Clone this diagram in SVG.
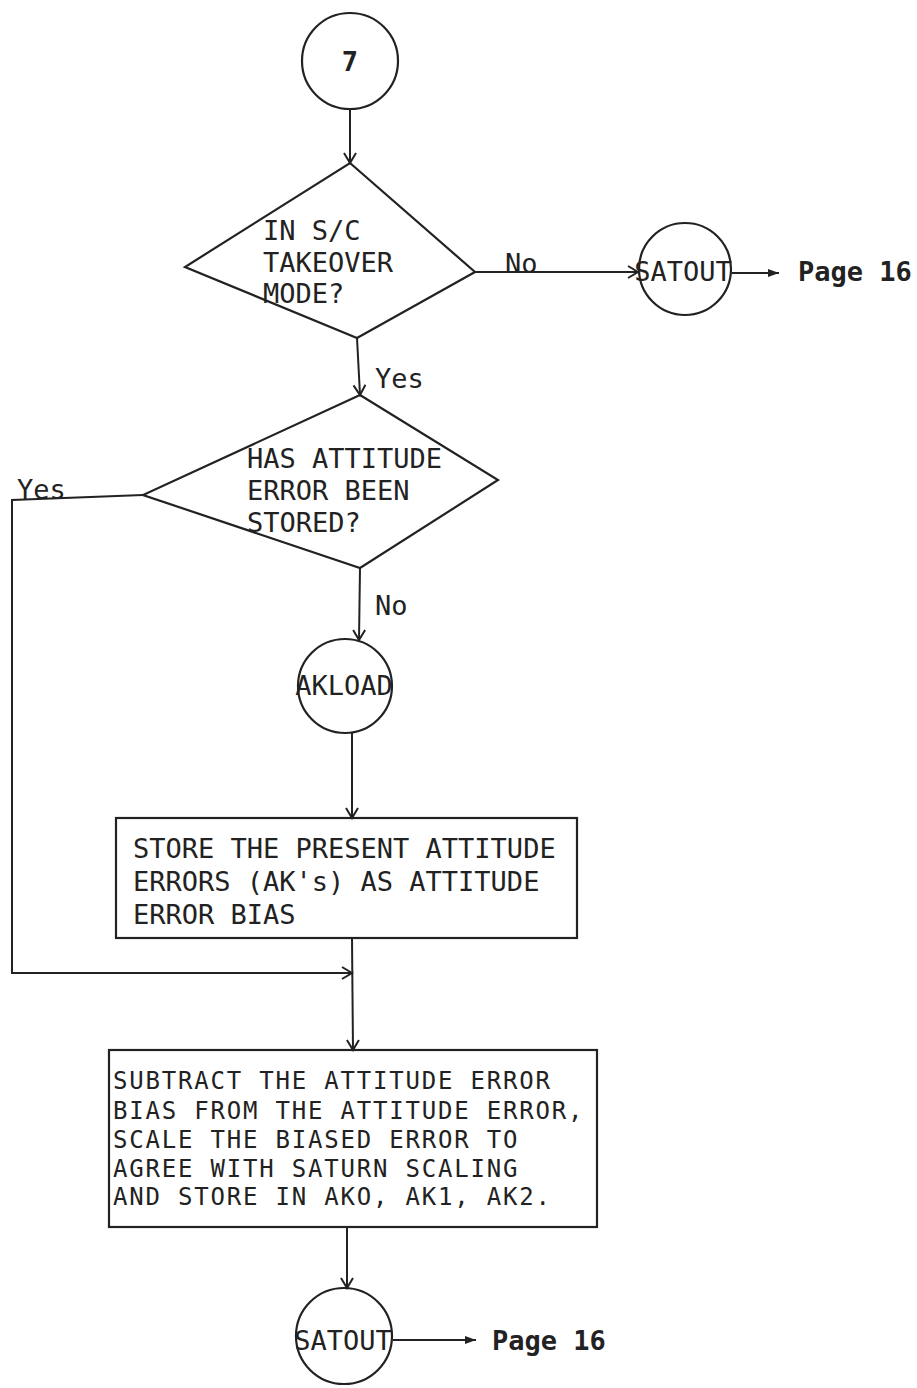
<svg xmlns="http://www.w3.org/2000/svg" width="917" height="1388" viewBox="0 0 917 1388">
<defs>
<marker id="open" markerUnits="userSpaceOnUse" markerWidth="14" markerHeight="14" refX="12" refY="7" orient="auto">
<path d="M2,1 L12,7 L2,13" fill="none" stroke="#222" stroke-width="2"/>
</marker>
<marker id="solid" markerUnits="userSpaceOnUse" markerWidth="12" markerHeight="10" refX="11" refY="5" orient="auto">
<path d="M0,1 L11,5 L0,9 Z" fill="#222"/>
</marker>
</defs>
<style>
.shape{fill:none;stroke:#222;stroke-width:2.2}
.con{fill:none;stroke:#222;stroke-width:2}
.t{font-family:"DejaVu Sans Mono","Liberation Mono",monospace;font-size:27px;fill:#222}
.s{font-size:24px;letter-spacing:1.8px}
.b{font-weight:bold}
</style>
<rect width="917" height="1388" fill="#fff"/>

<g id="connectors">
<line class="con" x1="350" y1="109" x2="350" y2="163" marker-end="url(#open)"/>
<line class="con" x1="475" y1="272" x2="638" y2="272" marker-end="url(#open)"/>
<line class="con" x1="732" y1="273" x2="779" y2="273" marker-end="url(#solid)"/>
<line class="con" x1="357" y1="338" x2="360" y2="395" marker-end="url(#open)"/>
<path class="con" d="M143,495 L12,500 L12,973 L352,973" marker-end="url(#open)"/>
<line class="con" x1="360" y1="568" x2="359" y2="640" marker-end="url(#open)"/>
<line class="con" x1="352" y1="733" x2="352" y2="818" marker-end="url(#open)"/>
<line class="con" x1="352" y1="938" x2="353" y2="1050" marker-end="url(#open)"/>
<line class="con" x1="347" y1="1227" x2="347" y2="1288" marker-end="url(#open)"/>
<line class="con" x1="393" y1="1340" x2="476" y2="1340" marker-end="url(#solid)"/>
<text class="t" x="505" y="273">No</text>
<text class="t" x="375" y="388">Yes</text>
<text class="t" x="17" y="499">Yes</text>
<text class="t" x="375" y="615">No</text>
<text class="t b" x="798" y="281">Page 16</text>
<text class="t b" x="492" y="1350">Page 16</text>
</g>

<g id="start7">
<circle class="shape" cx="350" cy="61" r="48"/>
<text class="t b" x="350" y="71" text-anchor="middle">7</text>
</g>

<g id="decision1">
<polygon class="shape" points="350,163 475,272 357,338 185,267"/>
<text class="t" x="263" y="240">IN S/C</text>
<text class="t" x="263" y="272">TAKEOVER</text>
<text class="t" x="263" y="303">MODE?</text>
</g>

<g id="satout1">
<circle class="shape" cx="685" cy="269" r="46"/>
<text class="t" x="683" y="281" text-anchor="middle">SATOUT</text>
</g>

<g id="decision2">
<polygon class="shape" points="360,395 498,480 360,568 143,495"/>
<text class="t" x="247" y="468">HAS ATTITUDE</text>
<text class="t" x="247" y="500">ERROR BEEN</text>
<text class="t" x="247" y="532">STORED?</text>
</g>

<g id="akload">
<circle class="shape" cx="345" cy="686" r="47"/>
<text class="t" x="344" y="695" text-anchor="middle">AKLOAD</text>
</g>

<g id="store">
<rect class="shape" x="116" y="818" width="461" height="120"/>
<text class="t" x="133" y="858">STORE THE PRESENT ATTITUDE</text>
<text class="t" x="133" y="891">ERRORS (AK's) AS ATTITUDE</text>
<text class="t" x="133" y="924">ERROR BIAS</text>
</g>

<g id="subtract">
<rect class="shape" x="109" y="1050" width="488" height="177"/>
<text class="t s" x="113" y="1089">SUBTRACT THE ATTITUDE ERROR</text>
<text class="t s" x="113" y="1119">BIAS FROM THE ATTITUDE ERROR,</text>
<text class="t s" x="113" y="1148">SCALE THE BIASED ERROR TO</text>
<text class="t s" x="113" y="1177">AGREE WITH SATURN SCALING</text>
<text class="t s" x="113" y="1205">AND STORE IN AKO, AK1, AK2.</text>
</g>

<g id="satout2">
<circle class="shape" cx="344" cy="1336" r="48"/>
<text class="t" x="343" y="1350" text-anchor="middle">SATOUT</text>
</g>
</svg>
